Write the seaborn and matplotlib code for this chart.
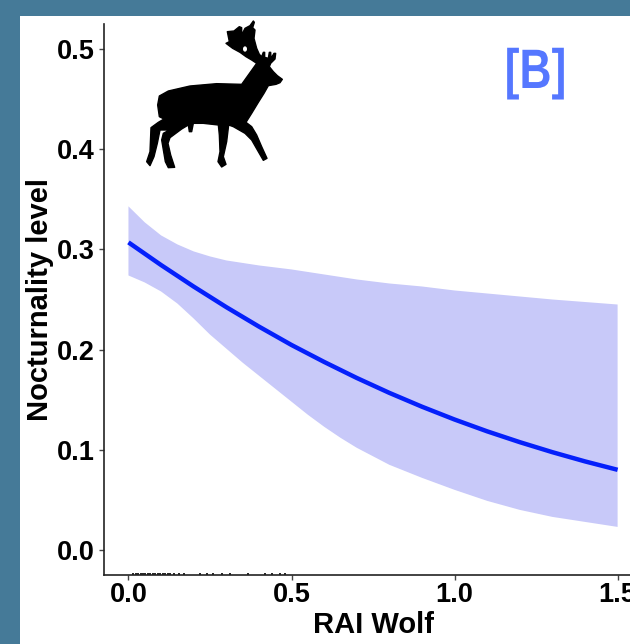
import pandas as pd
import matplotlib
matplotlib.use("Agg")
import matplotlib.pyplot as plt
import matplotlib.patheffects as pe
import seaborn as sns
from matplotlib.patches import Polygon, Rectangle, Ellipse
from matplotlib.transforms import Affine2D

# fitted curve
rai_line = [0.0, 0.1, 0.2, 0.3, 0.4, 0.5, 0.6, 0.7, 0.8, 0.9, 1.0, 1.1, 1.2, 1.3, 1.4, 1.5]
noct_line = [0.307, 0.2844, 0.2629, 0.2424, 0.2230, 0.2046, 0.1877, 0.1717,
             0.1568, 0.1430, 0.1302, 0.1184, 0.1076, 0.0976, 0.0884, 0.0800]

# confidence band
rai_upper = [0.0, 0.05, 0.1, 0.15, 0.2, 0.25, 0.3, 0.4, 0.5, 0.6, 0.7, 0.8, 0.9, 1.0, 1.1, 1.2, 1.3, 1.4, 1.5]
noct_upper = [0.343, 0.327, 0.314, 0.305, 0.298, 0.293, 0.289, 0.284, 0.280, 0.275,
              0.270, 0.266, 0.263, 0.259, 0.256, 0.253, 0.250, 0.2475, 0.245]
rai_lower = [0.0, 0.05, 0.1, 0.15, 0.2, 0.25, 0.3, 0.35, 0.4, 0.45, 0.5, 0.55, 0.6, 0.65,
             0.7, 0.75, 0.8, 0.9, 1.0, 1.1, 1.2, 1.3, 1.4, 1.5]
noct_lower = [0.274, 0.267, 0.258, 0.246, 0.231, 0.215, 0.201, 0.187, 0.174, 0.161, 0.148,
              0.135, 0.123, 0.112, 0.102, 0.0935, 0.085, 0.072, 0.060, 0.049, 0.040, 0.033, 0.028, 0.023]

# rug along the x axis
rug_x = [0.015, 0.022, 0.03, 0.037, 0.045, 0.052, 0.06, 0.067, 0.075, 0.082, 0.09, 0.097, 0.105,
         0.112, 0.12, 0.128, 0.14, 0.155, 0.17, 0.219, 0.24, 0.26, 0.286, 0.312, 0.368, 0.42,
         0.44, 0.465, 0.48]

x_ticks = [0.0, 0.5, 1.0, 1.5]
y_ticks = [0.0, 0.1, 0.2, 0.3, 0.4, 0.5]

# deer icon outline (zoomed crop pixels)
deer_outline = [
    (427, 193), (420, 203), (408, 208), (385, 212), (372, 235), (355, 262), (335, 295), (318, 322),
    (335, 335), (350, 360), (365, 395), (381, 430), (370, 436), (355, 410), (335, 375),
    (315, 355), (280, 335), (266, 330), (260, 380), (250, 425), (258, 448), (245, 456),
    (234, 440), (240, 410), (238, 360), (235, 330), (190, 325), (160, 325), (155, 350),
    (148, 350), (145, 330), (125, 342), (90, 368), (84, 385), (92, 420), (104, 457),
    (85, 458), (76, 440), (65, 375), (70, 355), (88, 345), (60, 345), (52, 385),
    (42, 425), (30, 452), (20, 440), (30, 410), (33, 338), (55, 322), (72, 312),
    (58, 305), (53, 270), (58, 243), (85, 228), (150, 213), (230, 206), (305, 208),
    (325, 180), (350, 145), (335, 135), (318, 125), (300, 112), (278, 100), (258, 85),
    (268, 80), (262, 50), (282, 48), (298, 35), (305, 38), (305, 60), (315, 40),
    (330, 32), (340, 18), (343, 22), (338, 38), (345, 45), (342, 70), (350, 100),
    (358, 118), (365, 125), (370, 112), (374, 112), (374, 127), (385, 130), (388, 112),
    (392, 112), (393, 130), (402, 115), (407, 115), (405, 132), (392, 145), (388, 155),
    (400, 170), (412, 182),
]


class Squeeze(pe.AbstractPathEffect):
    # narrows text around a pixel x, the reference label is a condensed face
    def __init__(self, sx, cx):
        super().__init__()
        self.sx = sx
        self.cx = cx

    def draw_path(self, renderer, gc, tpath, affine, rgbFace=None):
        narrow = affine + Affine2D().translate(-self.cx, 0).scale(self.sx, 1).translate(self.cx, 0)
        renderer.draw_path(gc, tpath, narrow, rgbFace)


sns.set_theme(style="ticks")
plt.rcParams["font.family"] = ["Liberation Sans", "DejaVu Sans"]

W, H = 630, 644
fig = plt.figure(figsize=(W / 100, H / 100), dpi=100, facecolor="#457a98")
fig.add_artist(Rectangle((20 / W, 0), 1 - 20 / W, 1 - 16 / H, transform=fig.transFigure,
                         facecolor="white", edgecolor="none", zorder=-1))

ax = fig.add_axes([104 / W, 1 - 575 / H, (W - 104) / W, 551 / H])
ax.patch.set_alpha(0)

ax.fill(rai_upper + rai_lower[::-1], noct_upper + noct_lower[::-1],
        color="#c8c9f9", linewidth=0)

df = pd.DataFrame({"rai": rai_line, "noct": noct_line})
sns.lineplot(data=df, x="rai", y="noct", color="#0520fb", linewidth=3.2, ax=ax,
             errorbar=None, solid_capstyle="butt")
sns.rugplot(x=rug_x, height=0.004, color="black", linewidth=1.2, ax=ax)

ax.set_xlim(-0.075, 1.538)
ax.set_ylim(-0.025, 0.525)
ax.set_xticks(x_ticks)
ax.set_yticks(y_ticks)
ax.set_xticklabels([f"{v:.1f}" for v in x_ticks], fontsize=19.5, fontweight="bold", color="black")
ax.set_yticklabels([f"{v:.1f}" for v in y_ticks], fontsize=19.5, fontweight="bold", color="black")
ax.tick_params(axis="both", length=3.5, width=1.0, color="#444444", pad=3)
ax.tick_params(axis="x", pad=1.5)

sns.despine(ax=ax)
ax.spines["left"].set_linewidth(1.2)
ax.spines["bottom"].set_linewidth(1.2)
ax.spines["left"].set_color("#222222")
ax.spines["bottom"].set_color("#222222")

ax.set_xlabel("RAI Wolf", fontsize=21, fontweight="bold", color="black", va="center")
ax.set_ylabel("Nocturnality level", fontsize=21, fontweight="bold", color="black", va="center")
ax.xaxis.set_label_coords(0.513, -0.0907)
ax.yaxis.set_label_coords(-0.122, 0.50)

# icon goes on in picture pixels, y flipped
to_px = Affine2D().scale(1 / 3, -1 / 3).translate(140, H - 15)
fig.add_artist(Polygon(deer_outline, closed=True, facecolor="black", edgecolor="black",
                       linewidth=1.0, joinstyle="round", transform=to_px))
fig.add_artist(Ellipse((315, 102), 12, 16, facecolor="white", edgecolor="none", transform=to_px))

label = fig.text(535.5 / W, 1 - 74 / H, "[B]", color="#5577ff", fontsize=40, fontweight="bold",
                 ha="center", va="center")
label.set_path_effects([Squeeze(0.8, 535.5)])

fig.savefig("out.png", dpi=100, facecolor=fig.get_facecolor())
